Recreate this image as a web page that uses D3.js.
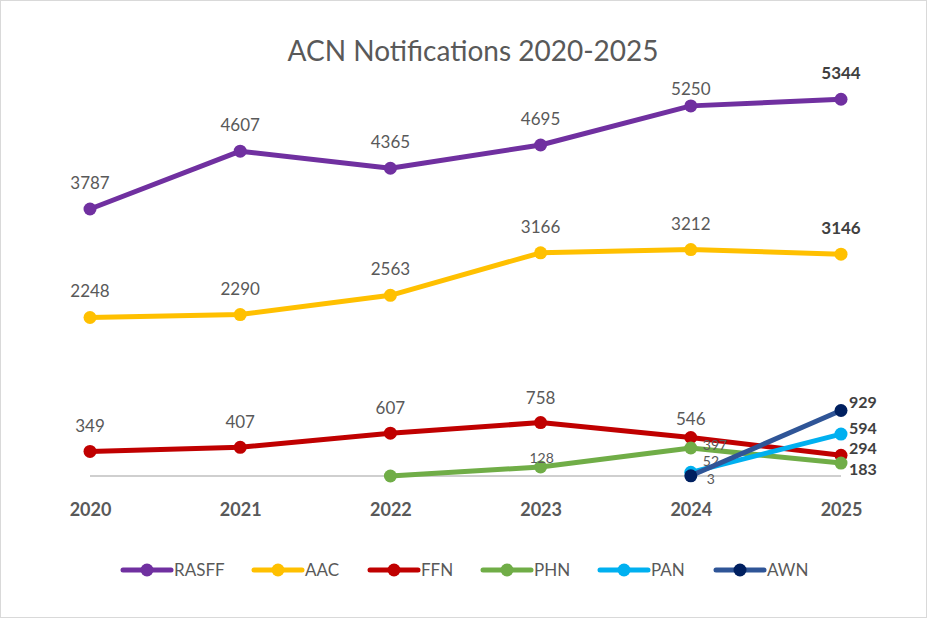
<!DOCTYPE html>
<html>
<head>
<meta charset="utf-8">
<script src="https://cdn.jsdelivr.net/npm/d3@7"></script>
<style>
  body { margin: 0; background: #fff; }
  svg { display: block; font-family: Lato, "Open Sans", sans-serif; }
</style>
</head>
<body>
<div id="chart"></div>
<script>
// data
var years = ["2020", "2021", "2022", "2023", "2024", "2025"];
var seriesNames = ["RASFF", "AAC", "FFN", "PHN", "PAN", "AWN"];
var rasff = [3787, 4607, 4365, 4695, 5250, 5344];
var aac = [2248, 2290, 2563, 3166, 3212, 3146];
var ffn = [349, 407, 607, 758, 546, 294];
var phn = [null, null, 0, 128, 397, 183];
var pan = [null, null, null, null, 52, 594];
var awn = [null, null, null, null, 3, 929];

var lineColors = ["#7030A0", "#FFC000", "#C00000", "#70AD47", "#00B0F0", "#2F5597"];
var dotColors = ["#7030A0", "#FFC000", "#C00000", "#70AD47", "#00B0F0", "#002060"];

var width = 927,
    height = 618;

var svg = d3.select('#chart')
      .append('svg')
      .attr('width', width)
      .attr('height', height);

// chart border
svg.append('rect')
  .attr('x', 0.5).attr('y', 0.5)
  .attr('width', width - 1).attr('height', height - 1)
  .attr('fill', '#fff')
  .attr('stroke', '#d9d9d9');

var x = d3.scalePoint()
  .domain(years)
  .range([90, 841]);

var y = d3.scaleLinear()
  .domain([0, 6000])
  .range([476, 53]);

// title
svg.append('text')
  .attr('x', 473).attr('y', 61)
  .attr('text-anchor', 'middle')
  .style('font-size', '28px')
  .style('fill', '#595959')
  .text('ACN Notifications 2020-2025');

// baseline
svg.append('line')
  .attr('x1', x(years[0])).attr('x2', x(years[years.length - 1]))
  .attr('y1', y(0)).attr('y2', y(0))
  .attr('stroke', '#bfbfbf')
  .attr('stroke-width', 1.5);

// x axis labels
var xAxis = d3.axisBottom(x).tickSize(0).tickPadding(27);
var gx = svg.append('g')
  .attr('transform', 'translate(0,' + y(0) + ')')
  .call(xAxis);
gx.select('.domain').remove();
gx.selectAll('text')
  .style('font-family', 'Lato, "Open Sans", sans-serif')
  .style('font-size', '18px')
  .style('font-weight', 'bold')
  .style('fill', '#595959');

var allSeries = [rasff, aac, ffn, phn, pan, awn];

// label offsets [dx, dy, anchor] per point, null = no label
function labelPos(s, i) {
  var last = i === years.length - 1;
  if (s === 0) return i === 4 ? [0, -17, 'middle'] : [0, -26, 'middle'];
  if (s === 1) return [0, -26, 'middle'];
  if (s === 2) {
    if (last) return [8, -7, 'start'];
    if (i === 4) return [0, -18, 'middle'];
    return [0, -25, 'middle'];
  }
  if (s === 3) {
    if (i === 2) return null;
    if (i === 3) return [1, -9, 'middle'];
    if (i === 4) return [12, -3, 'start'];
    return [8, 6, 'start'];
  }
  if (s === 4) return i === 4 ? [12, -11, 'start'] : [8, -6, 'start'];
  if (s === 5) return i === 4 ? [16, 3, 'start'] : [8, -8, 'start'];
}

allSeries.forEach(function(vals, s) {
  var pts = vals.map(function(v, i) { return { year: years[i], v: v, i: i }; })
    .filter(function(d) { return d.v !== null; });

  var line = d3.line()
    .x(function(d) { return x(d.year); })
    .y(function(d) { return y(d.v); });

  var g = svg.append('g');
  g.append('path')
    .datum(pts)
    .attr('d', line)
    .attr('fill', 'none')
    .attr('stroke', lineColors[s])
    .attr('stroke-width', 5)
    .attr('stroke-linejoin', 'round');

  g.selectAll('circle')
    .data(pts)
    .enter()
    .append('circle')
    .attr('cx', function(d) { return x(d.year); })
    .attr('cy', function(d) { return y(d.v); })
    .attr('r', 6.5)
    .attr('fill', dotColors[s]);

  pts.forEach(function(d) {
    var p = labelPos(s, d.i);
    if (!p) return;
    var last = d.i === years.length - 1;
    var size = last ? (s >= 2 ? '16px' : '17px') : (s >= 3 ? '14px' : '17px');
    svg.append('text')
      .attr('x', x(d.year) + p[0])
      .attr('y', y(d.v) + p[1])
      .attr('dy', '0.35em')
      .attr('text-anchor', p[2])
      .style('font-size', size)
      .style('font-weight', last ? 'bold' : 'normal')
      .style('fill', last ? '#404040' : '#595959')
      .text(d.v);
  });
});

// legend
var legendX = [123, 254, 370, 483, 600, 716];
seriesNames.forEach(function(name, s) {
  var lx = legendX[s], ly = 570;
  var g = svg.append('g').attr('transform', 'translate(' + lx + ',' + ly + ')');
  g.append('line')
    .attr('x1', 0).attr('x2', 48)
    .attr('stroke', lineColors[s])
    .attr('stroke-width', 5)
    .attr('stroke-linecap', 'round');
  g.append('circle')
    .attr('cx', 24).attr('r', 6.5)
    .attr('fill', dotColors[s]);
  g.append('text')
    .attr('x', 51).attr('dy', '0.35em')
    .style('font-size', '17px')
    .style('fill', '#595959')
    .text(name);
});
</script>
</body>
</html>
